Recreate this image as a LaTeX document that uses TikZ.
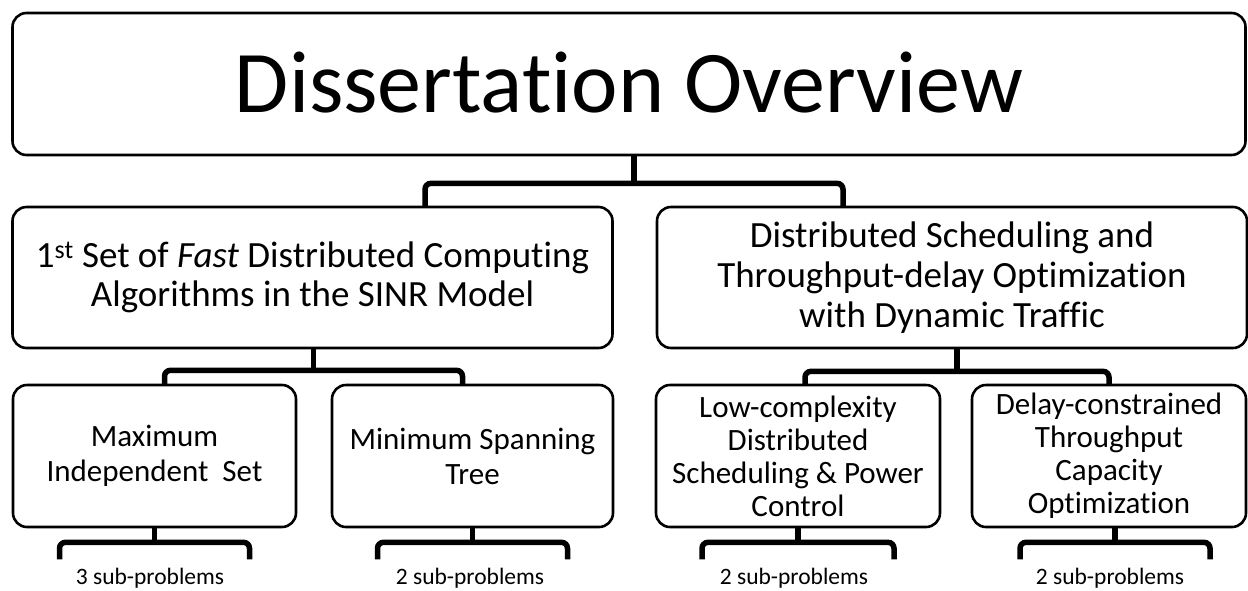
\documentclass[tikz,border=0pt]{standalone}
\usepackage{fontspec}
\setmainfont[RawFeature={-liga;-clig;-calt;-dlig}]{Carlito}
\usetikzlibrary{calc}

\tikzset{
  box/.style={draw, line width=2.6pt, rounded corners=14pt, align=center, inner sep=0pt},
  brace/.style={line width=5.5pt, rounded corners=6pt},
  sublabel/.style={font=\fontsize{23.5}{26}\selectfont},
}

% parent node, x shift of stem, half width of bar, stem length, drop of bar ends
\newcommand{\subbrace}[5]{%
  \draw[brace] ($(#1.south)+(#2,0)$) -- ++(0,#4);
  \draw[brace] ($(#1.south)+({#2-#3},{#4+#5})$) -- ++(0,-#5) -- ++({2*#3},0) -- ++(0,#5);
}

\begin{document}
\begin{tikzpicture}[x=1pt,y=-1pt]
  \useasboundingbox (0,0) rectangle (1248,590);

  \node [box, minimum width=1233pt, minimum height=142pt, font=\fontsize{88}{92}\selectfont] (title) at (629,84) {\raisebox{3pt}{Dissertation Overview}};

  \node [box, minimum width=600pt, minimum height=141pt, font=\fontsize{37}{39}\selectfont] (fast) at (312.5,277.5)
    {1\textsuperscript{st} Set of \textit{Fast} Distributed Computing\\Algorithms in the SINR Model};
  \node [box, minimum width=590pt, minimum height=141pt, font=\fontsize{37}{40}\selectfont] (sched) at (952,277.5)
    {Distributed Scheduling and\\Throughput-delay Optimization\\with Dynamic Traffic};

  \node [box, minimum width=283pt, minimum height=142pt, font=\fontsize{31}{35}\selectfont] (mis) at (154.5,456) {Maximum\\Independent\ \ Set};
  \node [box, minimum width=281pt, minimum height=142pt, font=\fontsize{31}{35}\selectfont] (mst) at (472.5,456) {Minimum Spanning\\Tree};
  \node [box, minimum width=284pt, minimum height=142pt, font=\fontsize{31}{33}\selectfont] (lowc) at (798,456)
    {Low-complexity\\Distributed\\Scheduling \& Power\\Control};
  \node [box, minimum width=274pt, minimum height=142pt, font=\fontsize{31}{33}\selectfont] (delay) at (1109,456)
    {Delay-constrained\\Throughput\\Capacity\\Optimization};

  % braces between levels
  \subbrace{title}{5}{209}{27}{23}
  \subbrace{fast}{1}{149}{21}{14}
  \subbrace{sched}{5}{152}{22}{13}
  \subbrace{mis}{0}{95}{14}{17}
  \subbrace{mst}{0}{95}{14}{17}
  \subbrace{lowc}{0}{96}{14}{17}
  \subbrace{delay}{6}{95}{14}{17}

  \node [sublabel] (mislab) at (150,578) {3 sub-problems};
  \node [sublabel] (mstlab) at (470,578) {2 sub-problems};
  \node [sublabel] (lowclab) at (794,578) {2 sub-problems};
  \node [sublabel] (delaylab) at (1110,578) {2 sub-problems};
\end{tikzpicture}
\end{document}
